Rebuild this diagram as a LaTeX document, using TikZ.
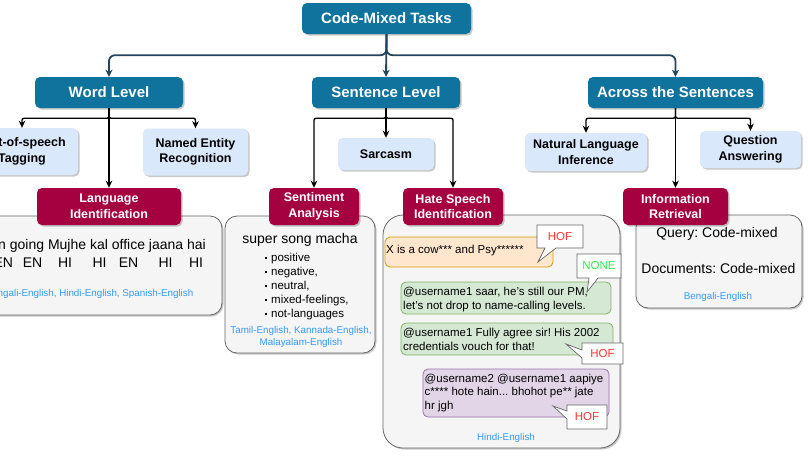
\documentclass[tikz,border=0pt]{standalone}
\usepackage{fontspec}
\setmainfont{Liberation Sans}
\usetikzlibrary{shadows,arrows.meta}
\frenchspacing
\definecolor{tblue}{HTML}{10739E}
\definecolor{lblue}{HTML}{DAE8FC}
\definecolor{maroonc}{HTML}{A50040}
\definecolor{navy}{HTML}{23445D}
\definecolor{exfill}{HTML}{F5F5F5}
\definecolor{exdraw}{HTML}{666666}
\definecolor{ofill}{HTML}{FFE6CC}\definecolor{odraw}{HTML}{D79B00}
\definecolor{gfill}{HTML}{D5E8D4}\definecolor{gdraw}{HTML}{82B366}
\definecolor{pfill}{HTML}{E1D5E7}\definecolor{pdraw}{HTML}{9673A6}
\definecolor{langblue}{HTML}{3399FF}
\definecolor{hofred}{HTML}{FF3333}
\definecolor{nonegreen}{HTML}{33EE55}
\newcommand\mybul{\rule[2.5pt]{2pt}{2pt}\hspace{4.5pt}}
\tikzset{
 shad/.style={drop shadow={shadow xshift=1.5pt,shadow yshift=-1.5pt,opacity=0.22,fill=black}},
 basebox/.style={inner sep=0pt, align=center, rounded corners=5pt, shad},
 catbox/.style={basebox, fill=tblue, text=white, font=\bfseries\fontsize{15}{18}\selectfont, minimum height=31pt},
 subbox/.style={basebox, fill=lblue, font=\bfseries\fontsize{12.5}{15.5}\selectfont},
 taskbox/.style={basebox, fill=maroonc, text=white, font=\bfseries\fontsize{12.5}{15.5}\selectfont, minimum height=37pt},
 exbox/.style={draw=exdraw, fill=exfill, line width=0.8pt, rounded corners=12pt, inner sep=0pt, shad},
 bubble/.style={rounded corners=5pt, line width=0.8pt, inner sep=0pt},
 bubtext/.style={anchor=west, inner sep=0pt, align=left, font=\fontsize{11.5}{13.5}\selectfont},
 langtxt/.style={text=langblue, font=\fontsize{9.8}{12}\selectfont, align=center, inner sep=0pt},
 callout/.style={draw=exdraw, fill=white, line width=0.7pt, line join=miter},
 calltxt/.style={font=\fontsize{11.5}{13}\selectfont, inner sep=0pt},
 bigtxt/.style={font=\fontsize{14}{16}\selectfont, inner sep=0pt},
 toparrow/.style={draw=navy, line width=1.8pt, rounded corners=6pt, -{Stealth[length=7pt,width=7pt,inset=2pt]}},
 subarrow/.style={draw=black, line width=1.4pt, rounded corners=2pt, -{Stealth[length=7pt,width=6.5pt,inset=2pt]}},
}
\begin{document}
\begin{tikzpicture}[x=1pt,y=-1pt]
\useasboundingbox (0,0) rectangle (808,455);
\fill[white] (0,0) rectangle (808,455);

% example boxes
\node[exbox, minimum width=268pt, minimum height=99pt] (liex) at (88,265.5) {};
\node[exbox, minimum width=150pt, minimum height=137pt] (saex) at (300,284.5) {};
\node[exbox, rounded corners=20pt, minimum width=237pt, minimum height=233pt] (hsex) at (501.5,331.5) {};
\node[exbox, minimum width=166pt, minimum height=93pt] (irex) at (719,261.5) {};

% category boxes
\node[catbox, minimum width=169pt] (top) at (386.5,18.5) {\raisebox{-1.5pt}{Code-Mixed Tasks}};
\node[catbox, minimum width=148pt] (wl) at (109,92.5) {\raisebox{-1.5pt}{Word Level}};
\node[catbox, minimum width=148pt] (sl) at (386,92.5) {\raisebox{-1.5pt}{Sentence Level}};
\node[catbox, minimum width=175pt] (as) at (675.5,92.5) {\raisebox{-1.5pt}{Across the Sentences}};

% sub boxes
\node[subbox, minimum width=112pt, minimum height=47pt] (pos) at (22,151.5) {Part-of-speech\\Tagging};
\node[subbox, minimum width=105pt, minimum height=47pt] (ner) at (195.5,152) {Named Entity\\Recognition};
\node[subbox, minimum width=96pt, minimum height=32pt] (sar) at (386,154) {Sarcasm};
\node[subbox, minimum width=122pt, minimum height=38pt] (nli) at (586,152) {Natural Language\\Inference};
\node[subbox, minimum width=101pt, minimum height=37pt] (qa) at (750.5,149.5) {Question\\Answering};

% task boxes
\node[taskbox, minimum width=144pt] (li) at (109,206.5) {Language\\Identification};
\node[taskbox, minimum width=90pt] (sa) at (314,206.5) {Sentiment\\Analysis};
\node[taskbox, minimum width=100pt] (hs) at (453,206.5) {Hate Speech\\Identification};
\node[taskbox, minimum width=105pt] (ir) at (675.5,206.5) {Information\\Retrieval};

% connectors
\draw[toparrow] (top.south) -- ++(0,21) -| (wl.north);
\draw[toparrow] (top.south) -- (sl.north);
\draw[toparrow] (top.south) -- ++(0,21) -| (as.north);

\draw[subarrow] (wl.south) -- ++(0,10) -| (pos.north);
\draw[subarrow] (wl.south) -- ++(0,10) -| (ner.north);
\draw[subarrow] (wl.south) -- (li.north);
\draw[subarrow] (sl.south) -- ++(0,10) -| (sa.north);
\draw[subarrow] (sl.south) -- ++(0,10) -| (hs.north);
\draw[subarrow] (sl.south) -- (sar.north);
\draw[subarrow] (as.south) -- ++(0,10) -| (nli.north);
\draw[subarrow] (as.south) -- ++(0,10) -| (qa.north);
\draw[subarrow] (as.south) -- (ir.north);

% Language identification example
\node[bigtxt, anchor=east] (lil1) at (206,246) {Main going Mujhe kal office jaana hai};
\node[bigtxt] (t0) at (3.3,263) {EN};
\node[bigtxt] (t1) at (32.5,263) {EN};
\node[bigtxt] (t2) at (65,263) {HI};
\node[bigtxt] (t3) at (99.5,263) {HI};
\node[bigtxt] (t4) at (128.5,263) {EN};
\node[bigtxt] (t5) at (165.5,263) {HI};
\node[bigtxt] (t6) at (196,263) {HI};
\node[langtxt, anchor=east] (lilang) at (193.5,294) {Bengali-English, Hindi-English, Spanish-English};

% Sentiment example
\node[bigtxt] (sat) at (300,240) {super song macha};
\node[anchor=west, inner sep=0pt, align=left, font=\fontsize{11.5}{13.8}\selectfont] (salist) at (264.5,286.5)
 {\mybul positive\\ \mybul negative,\\ \mybul neutral,\\ \mybul mixed-feelings,\\ \mybul not-languages};
\node[langtxt] (salang) at (301,337) {Tamil-English, Kannada-English,\\Malayalam-English};

% Hate speech example
\node[bubble, draw=odraw, fill=ofill, minimum width=168pt, minimum height=30pt] (b1) at (469,252) {};
\node[bubtext] (b1t) at (386,251) {X is a cow*** and Psy******};
\node[bubble, draw=gdraw, fill=gfill, minimum width=210pt, minimum height=32pt] (b2) at (506,298) {};
\node[bubtext] (b2t) at (403,299.5) {@username1 saar, he's still our PM,\\let's not drop to name-calling levels.};
\node[bubble, draw=gdraw, fill=gfill, minimum width=212pt, minimum height=32pt] (b3) at (507,339) {};
\node[bubtext] (b3t) at (403,339.5) {@username1 Fully agree sir! His 2002\\credentials vouch for that!};
\node[bubble, draw=pdraw, fill=pfill, minimum width=186pt, minimum height=48pt] (b4) at (516,393) {};
\node[bubtext] (b4t) at (424.5,393) {@username2 @username1 aapiye\\c**** hote hain... bhohot pe** jate\\hr jgh};

% callouts
\draw[callout] (537,225) -- (583,225) -- (583,248) -- (556,248) -- (538,262) -- (545,248) -- (537,248) -- cycle;
\node[calltxt, text=hofred] (c1) at (560,236.5) {HOF};
\draw[callout] (577,254) -- (621,254) -- (621,278) -- (598,278) -- (587,292) -- (589,278) -- (577,278) -- cycle;
\node[calltxt, text=nonegreen] (c2) at (599,265.5) {NONE};
\draw[callout] (582,343) -- (623,343) -- (623,364) -- (582,364) -- (582,358) -- (566,344) -- (582,350) -- cycle;
\node[calltxt, text=hofred] (c3) at (602.5,353.5) {HOF};
\draw[callout] (567,405) -- (607,405) -- (607,429) -- (567,429) -- (567,419) -- (553,406) -- (567,411) -- cycle;
\node[calltxt, text=hofred] (c4) at (587,417) {HOF};

\node[langtxt] (hslang) at (506,438) {Hindi-English};

% IR example
\node[bigtxt] (irq) at (717,233.5) {Query: Code-mixed};
\node[bigtxt] (ird) at (718.5,268) {Documents: Code-mixed};
\node[langtxt] (irlang) at (718,297) {Bengali-English};
\end{tikzpicture}
\end{document}
